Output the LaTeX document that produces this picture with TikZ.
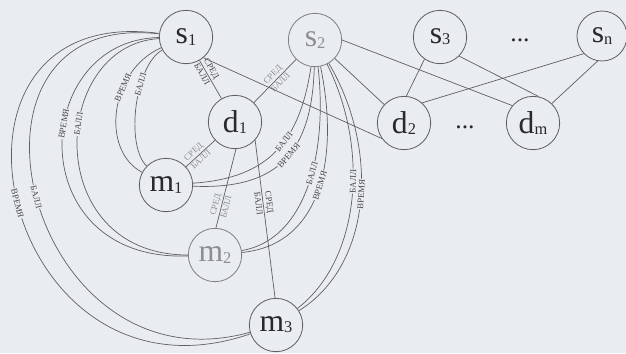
\documentclass[tikz,border=0pt]{standalone}
\usepackage{fontspec}
\setmainfont{Liberation Serif}
\definecolor{bgc}{RGB}{233,236,241}
\definecolor{edgec}{RGB}{95,95,100}
\definecolor{txtc}{RGB}{40,40,45}
\definecolor{fadec}{RGB}{140,142,148}
\definecolor{labc}{RGB}{70,70,75}
\newcommand\vlab[2]{\fontsize{27}{27}\selectfont #1\raisebox{-1pt}{\fontsize{14}{14}\selectfont #2}}
\begin{document}
\begin{tikzpicture}[x=0.03cm,y=-0.03cm,
  vert/.style={circle,draw=edgec,line width=0.7pt,minimum size=1.6cm,inner sep=0pt,text=txtc},
  fadevert/.style={vert,draw=fadec!90!black,text=fadec},
  edge/.style={draw=edgec,line width=0.6pt},
  lab/.style={font=\fontsize{7.5}{7.5}\selectfont,text=labc,inner sep=0.6pt,sloped},
  fadelab/.style={lab,text=fadec},
  onl/.style={lab,fill=bgc,inner sep=0.5pt},
  dotsn/.style={font=\fontsize{22}{22}\selectfont,text=txtc,inner sep=0pt}]
\fill[bgc] (0,0) rectangle (626,353);
\useasboundingbox (0,0) rectangle (626,353);
% nodes
\node[vert] (s1) at (186,37) {\vlab{s}{1}};
\node[fadevert] (s2) at (315,40) {\vlab{s}{2}};
\node[vert] (s3) at (440,37) {\vlab{s}{3}};
\node[vert,minimum size=1.5cm] (sn) at (602,36) {\vlab{s}{n}};
\node[vert] (d1) at (235,122) {\vlab{d}{1}};
\node[vert] (d2) at (404,123) {\vlab{d}{2}};
\node[vert] (dm) at (533,123) {\vlab{d}{m}};
\node[vert] (m1) at (166,185) {\vlab{m}{1}};
\node[fadevert] (m2) at (215,255) {\vlab{m}{2}};
\node[vert] (m3) at (276,325) {\vlab{m}{3}};
\node[dotsn] (dtop) at (520,40) {...};
\node[dotsn] (dbot) at (465,127) {...};
% straight edges
\draw[edge] (s1) -- node[lab,pos=0.3,above=0.5pt]{СРЕД} node[lab,pos=0.3,below=0.5pt]{БАЛЛ} (d1);
\draw[edge] (s2) -- node[fadelab,pos=0.45,above=0.5pt]{СРЕД} node[fadelab,pos=0.45,below=0.5pt]{БАЛЛ} (d1);
\draw[edge] (d1) -- node[fadelab,pos=0.6,above=0.5pt]{СРЕД} node[fadelab,pos=0.6,below=0.5pt]{БАЛЛ} (m1);
\draw[edge] (d1.272) -- node[fadelab,pos=0.72,above=0.5pt]{СРЕД} node[fadelab,pos=0.72,below=0.5pt]{БАЛЛ} (m2.88);
\draw[edge] (d1.318) -- node[lab,pos=0.4,above=0.5pt]{СРЕД} node[lab,pos=0.4,below=0.5pt]{БАЛЛ} (m3.92);
\draw[edge] (s1.-50) -- (d2.215);
\draw[edge] (s2) -- (d2);
\draw[edge] (s2.0) -- (dm.140);
\draw[edge] (s3.235) -- (d2.85);
\draw[edge] (s3.-45) -- (dm.78);
\draw[edge] (sn.224) -- (d2.48);
\draw[edge] (sn.260) -- (dm.46);
% s1 curves
\draw[edge] (s1) .. controls (110,70) and (100,150) .. node[onl,pos=0.35]{ВРЕМЯ} (m1);
\draw[edge] (s1) .. controls (135,65) and (125,145) .. node[onl,pos=0.35]{БАЛЛ} (m1);
\draw[edge] (s1) .. controls (30,40) and (20,262) .. node[onl,pos=0.42]{ВРЕМЯ} (m2);
\draw[edge] (s1) .. controls (50,45) and (40,255) .. node[onl,pos=0.42]{БАЛЛ} (m2);
\draw[edge] (s1) .. controls (-90,0) and (0,420) .. node[onl,pos=0.5]{ВРЕМЯ} (m3);
\draw[edge] (s1) .. controls (-65,8) and (25,395) .. node[onl,pos=0.5]{БАЛЛ} (m3);
% s2 curves
\draw[edge] (s2) .. controls (300,140) and (270,178) .. node[onl,pos=0.43]{БАЛЛ} (m1);
\draw[edge] (s2) .. controls (312,150) and (280,190) .. node[onl,pos=0.47]{ВРЕМЯ} (m1);
\draw[edge] (s2) .. controls (328,155) and (305,240) .. node[onl,pos=0.43]{БАЛЛ} (m2);
\draw[edge] (s2) .. controls (340,160) and (320,245) .. node[onl,pos=0.47]{ВРЕМЯ} (m2);
\draw[edge] (s2) .. controls (370,150) and (360,260) .. node[onl,pos=0.43]{БАЛЛ} (m3);
\draw[edge] (s2) .. controls (380,150) and (372,265) .. node[onl,pos=0.47]{ВРЕМЯ} (m3);
\end{tikzpicture}
\end{document}
